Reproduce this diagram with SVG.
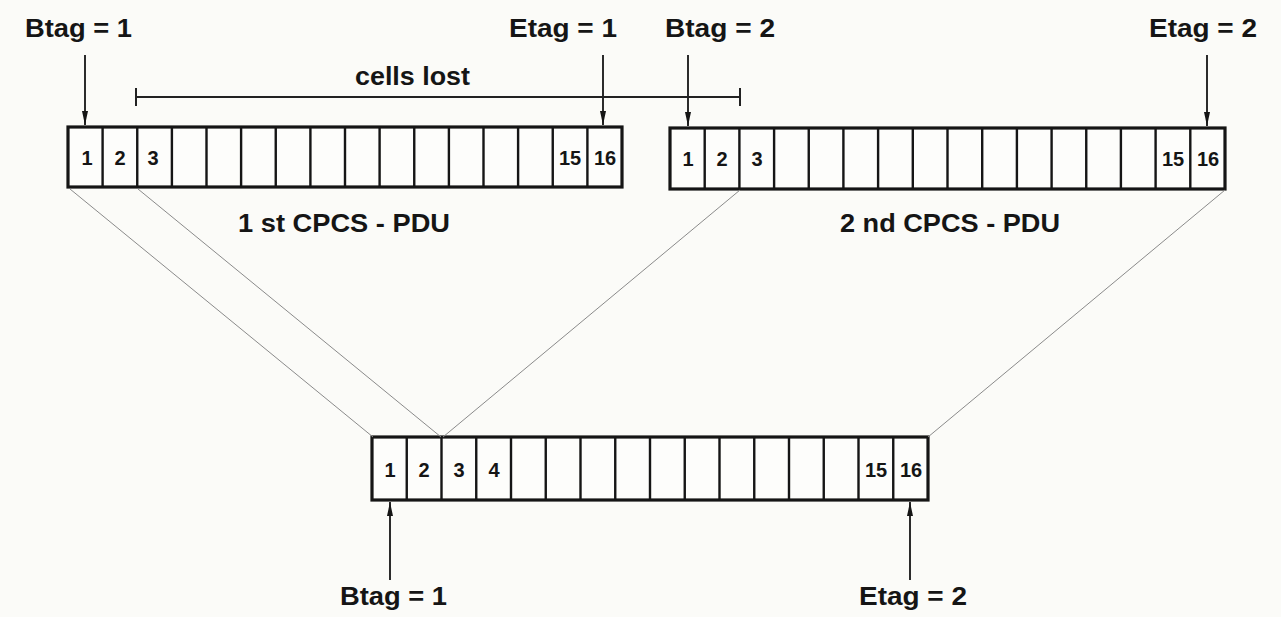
<svg xmlns="http://www.w3.org/2000/svg" width="1281" height="617" viewBox="0 0 1281 617">
  <style>
    .frame { fill: #fdfdfb; stroke: #151515; stroke-width: 3.2; }
    .div { fill: none; stroke: #151515; stroke-width: 2.4; }
    .num { font-family: "Liberation Sans", Arial, sans-serif; font-weight: bold; font-size: 20px; fill: #151515; text-anchor: middle; }
    .tag { font-family: "Liberation Sans", Arial, sans-serif; font-weight: bold; font-size: 25px; fill: #151515; }
    .cap { font-family: "Liberation Sans", Arial, sans-serif; font-weight: bold; font-size: 26px; fill: #151515; }
    .arrow { stroke: #151515; stroke-width: 1.8; fill: none; marker-end: url(#tip); }
    .map { stroke: #8a8a8a; stroke-width: 1; fill: none; }
    .span { stroke: #222; stroke-width: 2; fill: none; }
  </style>
  <defs>
    <marker id="tip" viewBox="0 0 14 6" refX="14" refY="3" markerWidth="14" markerHeight="6" markerUnits="userSpaceOnUse" orient="auto">
      <path d="M0,0 L14,3 L0,6 Z" fill="#151515"/>
    </marker>
  </defs>

  <rect width="1281" height="617" fill="#fbfbf8"/>

  <!-- first CPCS-PDU -->
  <g id="pdu1">
    <rect class="frame" x="68" y="127" width="554" height="60"/>
    <path class="div" d="M102.6,127V187M137.25,127V187M171.9,127V187M206.5,127V187M241.1,127V187M275.75,127V187M310.4,127V187M345,127V187M379.6,127V187M414.25,127V187M448.9,127V187M483.5,127V187M518.1,127V187M552.75,127V187M587.4,127V187"/>
    <text class="num" x="87" y="165">1</text>
    <text class="num" x="120" y="165">2</text>
    <text class="num" x="153" y="165">3</text>
    <text class="num" x="570" y="165">15</text>
    <text class="num" x="605" y="165">16</text>
    <text class="cap" x="238" y="232" textLength="212" lengthAdjust="spacingAndGlyphs">1 st CPCS - PDU</text>
  </g>

  <!-- second CPCS-PDU -->
  <g id="pdu2">
    <rect class="frame" x="670" y="128" width="555" height="61"/>
    <path class="div" d="M704.7,128V189M739.4,128V189M774.1,128V189M808.75,128V189M843.4,128V189M878.1,128V189M912.8,128V189M947.5,128V189M982.2,128V189M1016.9,128V189M1051.6,128V189M1086.25,128V189M1120.9,128V189M1155.6,128V189M1190.3,128V189"/>
    <text class="num" x="688" y="166">1</text>
    <text class="num" x="722" y="166">2</text>
    <text class="num" x="757" y="166">3</text>
    <text class="num" x="1173" y="166">15</text>
    <text class="num" x="1208" y="166">16</text>
    <text class="cap" x="840" y="232" textLength="220" lengthAdjust="spacingAndGlyphs">2 nd CPCS - PDU</text>
  </g>

  <!-- reassembled PDU -->
  <g id="pdu-merged">
    <rect class="frame" x="372" y="437" width="556" height="63"/>
    <path class="div" d="M406.75,437V500M441.5,437V500M476.25,437V500M511,437V500M545.75,437V500M580.5,437V500M615.25,437V500M650,437V500M684.75,437V500M719.5,437V500M754.25,437V500M789,437V500M823.75,437V500M858.5,437V500M893.25,437V500"/>
    <text class="num" x="390" y="477">1</text>
    <text class="num" x="424" y="477">2</text>
    <text class="num" x="459" y="477">3</text>
    <text class="num" x="494" y="477">4</text>
    <text class="num" x="876" y="477">15</text>
    <text class="num" x="911" y="477">16</text>
  </g>

  <!-- tag labels -->
  <g id="labels">
    <text class="tag" x="25" y="37" textLength="107" lengthAdjust="spacingAndGlyphs">Btag = 1</text>
    <text class="tag" x="509" y="37" textLength="108" lengthAdjust="spacingAndGlyphs">Etag = 1</text>
    <text class="tag" x="665" y="37" textLength="110" lengthAdjust="spacingAndGlyphs">Btag = 2</text>
    <text class="tag" x="1149" y="37" textLength="108" lengthAdjust="spacingAndGlyphs">Etag = 2</text>
    <text class="cap" x="355" y="85" textLength="115" lengthAdjust="spacingAndGlyphs">cells lost</text>
    <text class="tag" x="340" y="605" textLength="107" lengthAdjust="spacingAndGlyphs">Btag = 1</text>
    <text class="tag" x="859" y="605" textLength="108" lengthAdjust="spacingAndGlyphs">Etag = 2</text>
  </g>

  <!-- connectors -->
  <g id="connectors">
    <line class="arrow" x1="85" y1="55" x2="85" y2="125"/>
    <line class="arrow" x1="603" y1="55" x2="603" y2="125"/>
    <line class="arrow" x1="688" y1="55" x2="688" y2="126"/>
    <line class="arrow" x1="1207" y1="55" x2="1207" y2="126"/>
    <line class="arrow" x1="390" y1="580" x2="390" y2="502"/>
    <line class="arrow" x1="910" y1="580" x2="910" y2="502"/>

    <!-- lost-cell span -->
    <path class="span" d="M136,97H740M136,88V106M740,88V106"/>

    <!-- cell mapping lines -->
    <line class="map" x1="70" y1="189" x2="373" y2="437"/>
    <line class="map" x1="138" y1="189" x2="441" y2="437"/>
    <line class="map" x1="740" y1="190" x2="443" y2="437"/>
    <line class="map" x1="1225" y1="190" x2="928" y2="437"/>
  </g>
</svg>
